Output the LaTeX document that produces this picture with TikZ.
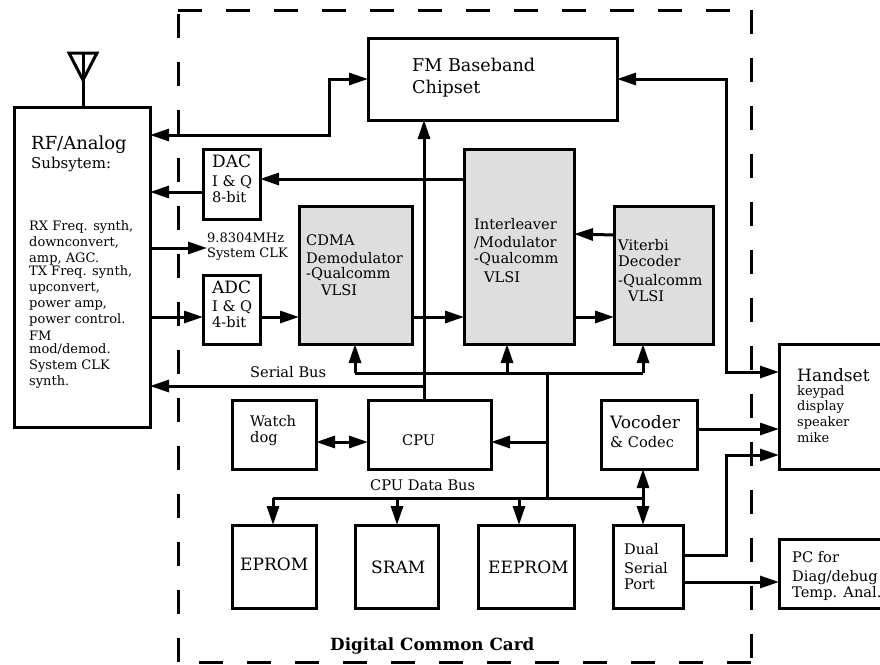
\documentclass[tikz,border=0pt]{standalone}
\usepackage{fontspec}
\setmainfont{DejaVu Serif}
\usetikzlibrary{arrows.meta, positioning}
\definecolor{chipgrey}{RGB}{222, 222, 222}
\newcommand{\bigfont}{\fontsize{17}{22}\selectfont}
\newcommand{\midfont}{\fontsize{14.6}{16}\selectfont}
\newcommand{\smallfont}{\fontsize{13}{16}\selectfont}
\begin{document}
\begin{tikzpicture}[
        x=1pt, y=-1pt,
        unit/.style={rectangle, draw, line width=3pt, outer sep=0pt, inner sep=0pt, fill=white},
        chip/.style={unit, fill=chipgrey},
        size/.style 2 args={minimum width=#1pt, minimum height=#2pt},
        lbl/.style={anchor=base west, align=left, inner sep=0pt, font=\midfont},
        wire/.style={line width=3pt, line join=miter},
        tip/.style={wire, -{Triangle[length=19pt, width=12pt]}},
        tiptwo/.style={wire, {Triangle[length=19pt, width=12pt]}-{Triangle[length=19pt, width=12pt]}},
        cardline/.style={line width=3pt, dash pattern=on 24pt off 24pt}
    ]
        \useasboundingbox (0,0) rectangle (880,664);
        \clip (0,0) rectangle (880,664);

        \node[rectangle, outer sep=0pt, minimum width=573pt, minimum height=652pt] (card) at (464.5,336) {};
        \foreach \from/\to in {north west/north east, north east/south east, south east/south west, south west/north west}
            \draw[cardline] (card.\from) -- (card.\to);

        \node[unit, size={136}{320}] (rf) at (82,267) {};
        \node[unit, size={57}{70}] (dac) at (231.5,184) {};
        \node[unit, size={57}{69}] (adc) at (231.5,309.5) {};
        \node[unit, size={249}{82}] (fm) at (492.5,79) {};
        \node[chip, size={113}{138}] (cdma) at (355.5,275) {};
        \node[chip, size={110}{195}] (inter) at (519,246.5) {};
        \node[chip, size={99}{138}] (viterbi) at (663.5,275) {};
        \node[unit, size={84}{69}] (watch) at (274,434.5) {};
        \node[unit, size={123}{69}] (cpu) at (429.5,434.5) {};
        \node[unit, size={96}{69}] (vocoder) at (649,434.5) {};
        \node[unit, size={111}{125}] (handset) at (834.5,406.5) {};
        \node[unit, size={84}{83}] (eprom) at (274,566.5) {};
        \node[unit, size={83}{83}] (sram) at (396.5,566.5) {};
        \node[unit, size={96}{83}] (eeprom) at (526,566.5) {};
        \node[unit, size={70}{83}] (dual) at (648,566.5) {};
        \node[unit, size={111}{69}] (pc) at (834.5,573.5) {};

        \coordinate (antenna) at (83,53);
        \coordinate (mast) at (83,80);
        \draw[wire] (69,53) -- (97,53) -- (mast) -- cycle;
        \draw[wire] (antenna) -- (rf.north -| antenna);

        \node[lbl, font=\fontsize{17.6}{22}\selectfont] (fmtext) at (412,93) {FM Baseband\\Chipset};
        \node[lbl, font=\fontsize{18}{22}\selectfont] (rftitle) at (31,149) {RF/Analog};
        \node[lbl, font=\fontsize{15}{16}\selectfont] (rfsub) at (31,168) {Subsytem:};
        \node[lbl, font=\smallfont] (rfbody) at (29,385) {RX Freq. synth,\\downconvert,\\amp, AGC.\\[-3pt]TX Freq. synth,\\upconvert,\\power amp,\\power control.\\[1pt]FM\\[-3pt]mod/demod.\\System CLK\\synth.};
        \node[lbl, font=\bigfont] (dactitle) at (212,167) {DAC};
        \node[lbl] (dactext) at (212,202) {I \& Q\\8-bit};
        \node[lbl, font=\bigfont] (adctitle) at (212,293) {ADC};
        \node[lbl] (adctext) at (212,327) {I \& Q\\4-bit};
        \node[lbl, font=\smallfont] (clk) at (207,257) {9.8304MHz\\[-1pt]System CLK};
        \node[lbl] (cdmatext) at (306,295) {CDMA\\[2pt]Demodulator\\[-1pt]-Qualcomm\\[1pt]\hspace*{15pt}VLSI};
        \node[lbl] (intertext) at (474,282) {Interleaver\\[2pt]/Modulator\\-Qualcomm\\[3pt]\hspace*{10pt}VLSI};
        \node[lbl] (viterbitext) at (618,301) {Viterbi\\Decoder\\[3pt]-Qualcomm\\\hspace*{10pt}VLSI};
        \node[lbl] (serial) at (250,377) {Serial Bus};
        \node[lbl] (watchtext) at (250,442) {Watch\\dog};
        \node[lbl] (cputext) at (402,445) {CPU};
        \node[lbl] (databus) at (370,490) {CPU Data Bus};
        \node[lbl, font=\bigfont] (epromtext) at (240,570) {EPROM};
        \node[lbl, font=\bigfont] (sramtext) at (371,573) {SRAM};
        \node[lbl, font=\bigfont] (eepromtext) at (488,573) {EEPROM};
        \node[lbl, font=\fontsize{16.8}{18}\selectfont\bfseries] (cardtext) at (330,650) {Digital Common Card};
        \node[lbl, font=\bigfont] (vocodertitle) at (610,428) {Vocoder};
        \node[lbl] (vocodertext) at (610,447) {\& Codec};
        \node[lbl] (dualtext) at (624,589) {Dual\\[3pt]Serial\\Port};
        \node[lbl, font=\bigfont] (handsettitle) at (797,381) {Handset};
        \node[lbl, font=\smallfont] (handsettext) at (797,442) {keypad\\[-1pt]display\\speaker\\mike};
        \node[lbl, font=\fontsize{14.6}{16}\selectfont] (pctext) at (792,597) {PC for\\[3pt]Diag/debug\\Temp. Anal.};

        \coordinate (fmrf) at (329,135);
        \coordinate (fmside) at (726,372);
        \coordinate (dualside) at (726,555);
        \coordinate (ctrl) at (424,386);
        \coordinate (ctrlbus) at (547,373);
        \coordinate (databusend) at (547,498);

        \draw[tiptwo] (rf.east |- fmrf) -- (fmrf) |- (fm.west);
        \draw[tiptwo] (fm.east) -| (fmside) -- (handset.west |- fmside);
        \draw[tip] (inter.west |- 0,179) -- (dac.east |- 0,179);
        \draw[tip] (dac.west |- 0,192) -- (rf.east |- 0,192);
        \draw[tip] (rf.east |- 0,248) -- (clk.west |- 0,248);
        \draw[tip] (rf.east |- 0,317) -- (adc.west |- 0,317);
        \draw[tip] (adc.east |- 0,317) -- (cdma.west |- 0,317);
        \draw[tip] (cdma.east |- 0,317) -- (inter.west |- 0,317);
        \draw[tip] (inter.east |- 0,317) -- (viterbi.west |- 0,317);
        \draw[tip] (viterbi.west |- 0,235) -- (inter.east |- 0,234);

        \draw[tip] (cpu.north -| ctrl) -- (fm.south -| ctrl);
        \draw[tip] (ctrl) -- (rf.east |- ctrl);
        \draw[wire] (databusend) -- (ctrlbus);
        \draw[tip] (355,373) -- (cdma.south -| 355,0);
        \draw[wire] (355,373) -- (643,373);
        \draw[tip] (507,373) -- (inter.south -| 507,0);
        \draw[tip] (643,373) -- (viterbi.south -| 643,0);
        \draw[tip] (547,442) -- (cpu.east |- 0,442);
        \draw[tiptwo] (watch.east |- 0,442) -- (cpu.west |- 0,442);

        \draw[tip] (273,498) -- (eprom.north -| 273,0);
        \draw[wire] (273,498) -- (643,498);
        \draw[tip] (397,498) -- (sram.north -| 397,0);
        \draw[tip] (519,498) -- (eeprom.north -| 519,0);
        \draw[tiptwo] (vocoder.south -| 643,0) -- (dual.north -| 643,0);

        \draw[tip] (vocoder.east |- 0,429) -- (handset.west |- 0,429);
        \draw[tip] (dual.east |- dualside) -- (dualside) -- (726,455) -- (handset.west |- 0,455);
        \draw[tip] (dual.east |- 0,582) -- (pc.west |- 0,582);
    \end{tikzpicture}
\end{document}
